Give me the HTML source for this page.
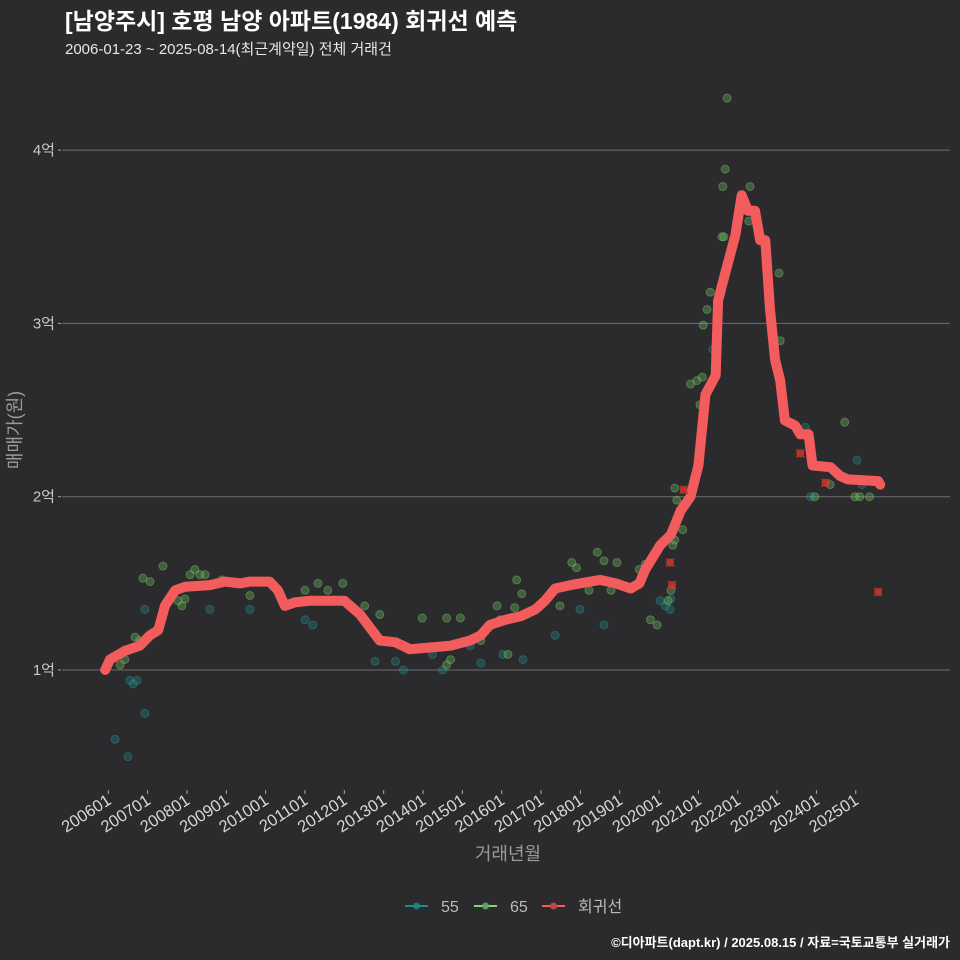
<!DOCTYPE html>
<html><head><meta charset="utf-8">
<style>
html,body{margin:0;padding:0;background:#2b2a2c;}
svg{display:block;font-family:"Liberation Sans","Noto Sans CJK KR",sans-serif;}
</style></head><body>
<svg id="chart" width="960" height="960" viewBox="0 0 960 960" xmlns="http://www.w3.org/2000/svg">
<rect width="960" height="960" fill="#2b2a2c"/>
<text x="65" y="29" fill="#ffffff" font-size="23" font-weight="bold">[남양주시] 호평 남양 아파트(1984) 회귀선 예측</text>
<text x="65" y="54" fill="#e8e8e8" font-size="15">2006-01-23 ~ 2025-08-14(최근계약일) 전체 거래건</text>
<g id="grid"></g>
<g id="yaxis"></g>
<g id="xaxis"></g>
<g id="pts55"></g>
<g id="pts65"></g>
<g id="reg"></g>
<g id="outl"></g>
<text x="0" y="0" transform="translate(21,430) rotate(-90)" text-anchor="middle" fill="#9a9a9a" font-size="18">매매가(원)</text>
<text x="508" y="860" text-anchor="middle" fill="#9a9a9a" font-size="18">거래년월</text>
<g>
<g><line x1="405" y1="906" x2="428" y2="906" stroke="#1f8a8a" stroke-width="2"/><circle cx="416.5" cy="906" r="3.5" fill="#1f8a8a" opacity="0.8"/><text x="441" y="912" fill="#bbbbbb" font-size="16">55</text></g>
<g><line x1="474" y1="906" x2="497" y2="906" stroke="#7fd870" stroke-width="2"/><circle cx="485.5" cy="906" r="3.5" fill="#5fa860" opacity="0.9"/><text x="510" y="912" fill="#bbbbbb" font-size="16">65</text></g>
<g><line x1="542" y1="906" x2="565" y2="906" stroke="#f25c5c" stroke-width="2"/><circle cx="553.5" cy="906" r="3.5" fill="#c04848"/><text x="578" y="912" fill="#bbbbbb" font-size="16">회귀선</text></g>
</g>
<text x="950" y="947" text-anchor="end" fill="#ffffff" font-size="13" font-weight="bold">©디아파트(dapt.kr) / 2025.08.15 / 자료=국토교통부 실거래가</text>
</svg>
<script>
const yTicks=[1,2,3,4];
const yTickLabels=["1억","2억","3억","4억"];
const xTickYears=[2006,2007,2008,2009,2010,2011,2012,2013,2014,2015,2016,2017,2018,2019,2020,2021,2022,2023,2024,2025];
const xTickLabels=["200601","200701","200801","200901","201001","201101","201201","201301","201401","201501","201601","201701","201801","201901","202001","202101","202201","202301","202401","202501"];
const regT=[2005.92,2006.04,2006.42,2006.8,2007.06,2007.27,2007.44,2007.7,2007.95,2008.58,2008.97,2009.35,2009.6,2010.1,2010.31,2010.49,2010.74,2011.13,2012.0,2012.4,2012.9,2013.3,2013.67,2014.18,2014.7,2015.2,2015.47,2015.7,2016.1,2016.48,2016.86,2017.1,2017.36,2017.75,2018.26,2018.5,2018.9,2019.28,2019.5,2019.65,2020.03,2020.3,2020.55,2020.8,2021.0,2021.18,2021.44,2021.5,2021.6,2021.94,2022.1,2022.26,2022.44,2022.57,2022.7,2022.82,2022.95,2023.08,2023.2,2023.46,2023.59,2023.8,2023.9,2024.36,2024.6,2024.8,2025.57,2025.62];
const regV=[1.0,1.06,1.11,1.14,1.2,1.23,1.37,1.46,1.48,1.49,1.51,1.5,1.51,1.51,1.46,1.37,1.39,1.4,1.4,1.32,1.17,1.16,1.12,1.13,1.14,1.17,1.2,1.26,1.29,1.31,1.35,1.4,1.47,1.49,1.51,1.52,1.5,1.47,1.5,1.58,1.72,1.78,1.92,2.0,2.18,2.59,2.7,3.13,3.22,3.51,3.74,3.65,3.65,3.48,3.48,3.08,2.79,2.67,2.44,2.41,2.36,2.36,2.18,2.17,2.12,2.1,2.09,2.07];
const t65=[2006.3,2006.42,2006.68,2006.8,2006.88,2007.06,2007.39,2007.77,2007.87,2008.08,2008.2,2008.33,2008.46,2007.95,2008.89,2009.6,2011.0,2011.33,2011.58,2011.96,2012.52,2012.9,2013.62,2013.98,2014.6,2014.95,2014.6,2014.7,2015.47,2015.88,2015.96,2016.16,2016.33,2016.38,2016.51,2016.92,2017.48,2017.78,2017.9,2018.22,2018.43,2018.6,2018.78,2018.93,2019.5,2019.65,2019.78,2019.95,2020.23,2020.35,2020.4,2020.45,2020.6,2020.8,2020.96,2021.04,2021.1,2021.12,2021.22,2021.3,2021.6,2021.65,2021.62,2021.68,2021.73,2022.31,2022.28,2023.05,2023.08,2024.72,2023.96,2024.35,2024.98,2025.1,2025.35,2020.4,2020.3];
const v65=[1.03,1.06,1.19,1.17,1.53,1.51,1.6,1.4,1.37,1.55,1.58,1.55,1.55,1.41,1.52,1.43,1.46,1.5,1.46,1.5,1.37,1.32,1.12,1.3,1.3,1.3,1.03,1.06,1.17,1.37,1.29,1.09,1.36,1.52,1.44,1.36,1.37,1.62,1.59,1.46,1.68,1.63,1.46,1.62,1.58,1.61,1.29,1.26,1.4,1.72,2.05,1.98,1.81,2.65,2.67,2.53,2.69,2.99,3.08,3.18,3.5,3.5,3.79,3.89,4.3,3.79,3.59,3.29,2.9,2.43,2.0,2.07,2.0,2.0,2.0,1.75,1.46];
const t55=[2006.17,2006.5,2006.55,2006.63,2006.73,2006.93,2006.93,2008.58,2009.6,2011.0,2011.2,2012.78,2013.3,2013.5,2014.24,2014.5,2015.2,2015.47,2016.03,2016.54,2017.36,2017.99,2018.6,2020.03,2020.16,2020.28,2020.3,2021.37,2023.72,2023.85,2025.03,2025.16];
const v55=[0.6,0.5,0.94,0.92,0.94,0.75,1.35,1.35,1.35,1.29,1.26,1.05,1.05,1.0,1.09,1.0,1.14,1.04,1.09,1.06,1.2,1.35,1.26,1.4,1.37,1.35,1.41,2.85,2.4,2.0,2.21,2.07];
const tOut=[2020.28,2020.33,2020.63,2023.59,2024.23,2025.57];
const vOut=[1.62,1.49,2.04,2.25,2.08,1.45];

const NS="http://www.w3.org/2000/svg";
function xs(t){return 108.3+(t-2006)*39.34;}
function ys(v){return 670-(v-1)*173.3;}
function mk(tag,attrs,parent){const e=document.createElementNS(NS,tag);for(const k in attrs)e.setAttribute(k,attrs[k]);parent.appendChild(e);return e;}
const grid=document.getElementById('grid'),ya=document.getElementById('yaxis'),xa=document.getElementById('xaxis');
yTicks.forEach((v,i)=>{
 const g=mk('line',{x1:62,x2:950,y1:ys(v),y2:ys(v),stroke:'#6e6e6e','stroke-width':1},grid);
 
 
 const tk=mk('line',{x1:58,x2:61,y1:ys(v),y2:ys(v),stroke:'#aaaaaa','stroke-width':1},ya);
 
 
 const tx=mk('text',{x:55,y:ys(v)+5,'text-anchor':'end',fill:'#c8c8c8','font-size':15},ya);
 
 
 tx.textContent=yTickLabels[i];
});
xTickYears.forEach((yr,i)=>{
 const x=xs(yr);
 const tk=mk('line',{x1:x,x2:x,y1:790,y2:794,stroke:'#aaaaaa','stroke-width':1},xa);
 
 
 const tx=mk('text',{x:0,y:0,'text-anchor':'end',fill:'#d8d8d8','font-size':16.5,transform:`translate(${x+4},${803}) rotate(-33)`},xa);
 
 
 tx.textContent=xTickLabels[i];
});
const p55=document.getElementById('pts55'),p65=document.getElementById('pts65');
t55.forEach((t,i)=>{
 const c=mk('circle',{cx:xs(t),cy:ys(v55[i]),r:4,fill:'#1f8a8a','fill-opacity':0.35,stroke:'#2a9a9a','stroke-opacity':0.4,'stroke-width':1},p55);
 
 
});
t65.forEach((t,i)=>{
 const c=mk('circle',{cx:xs(t),cy:ys(v65[i]),r:4,fill:'#6cc060','fill-opacity':0.35,stroke:'#80d070','stroke-opacity':0.4,'stroke-width':1},p65);
 
 
});
let d='';
regT.forEach((t,i)=>{d+=(i?'L':'M')+xs(t).toFixed(1)+','+ys(regV[i]).toFixed(1);});
const pl=mk('path',{d:d,fill:'none',stroke:'#f25c5c','stroke-width':10,'stroke-linejoin':'round','stroke-linecap':'round'},document.getElementById('reg'));


const og=document.getElementById('outl');
tOut.forEach((t,i)=>{
 const x=xs(t),y=ys(vOut[i]);
 const c=mk('circle',{cx:x,cy:y,r:4,fill:'#c06040','fill-opacity':0.6},og);
 
 
 const p=mk('path',{d:`M${x-4},${y-4}L${x+4},${y+4}M${x-4},${y+4}L${x+4},${y-4}`,stroke:'#e02020','stroke-width':1.5},og);
 
 
});
</script>
</body></html>
